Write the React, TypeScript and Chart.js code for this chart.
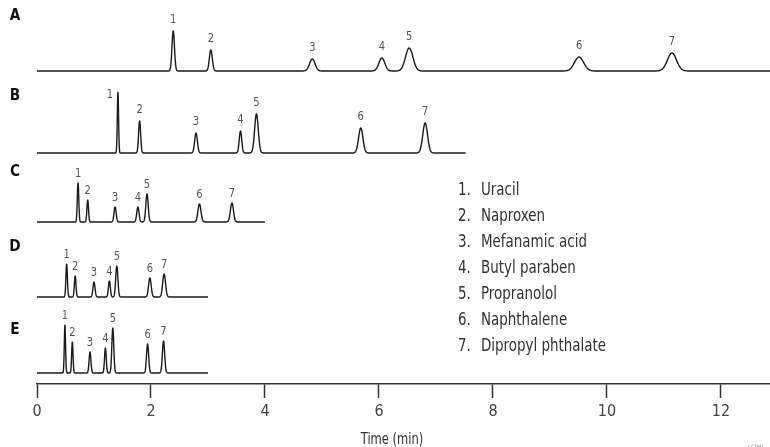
import React, { useEffect, useRef } from 'react';
import { Chart, registerables } from 'chart.js';

Chart.register(...registerables);

// ---------- data ----------
const traceNames = ['A', 'B', 'C', 'D', 'E'];
const traceEnds = [12.86, 7.52, 4.0, 3.0, 3.0]; // run length (min)

const timesA = [2.39, 3.05, 4.83, 6.05, 6.53, 9.51, 11.14];
const heightsA = [40, 21, 12, 13, 23, 14, 18];
const widthsA = [0.022, 0.026, 0.048, 0.052, 0.065, 0.08, 0.08];

const timesB = [1.42, 1.8, 2.79, 3.57, 3.85, 5.68, 6.81];
const heightsB = [61, 32, 20, 22, 39, 25, 30];
const widthsB = [0.011, 0.018, 0.024, 0.022, 0.032, 0.038, 0.042];

const timesC = [0.72, 0.89, 1.37, 1.77, 1.93, 2.85, 3.42];
const heightsC = [39, 22, 15, 15, 28, 18, 19];
const widthsC = [0.013, 0.014, 0.019, 0.02, 0.021, 0.027, 0.027];

const timesD = [0.52, 0.67, 1.0, 1.27, 1.4, 1.98, 2.23];
const heightsD = [33, 21, 15, 16, 31, 19, 23];
const widthsD = [0.013, 0.014, 0.018, 0.017, 0.019, 0.023, 0.025];

const timesE = [0.49, 0.62, 0.93, 1.2, 1.33, 1.94, 2.22];
const heightsE = [48, 31, 21, 25, 45, 29, 32];
const widthsE = [0.011, 0.012, 0.016, 0.015, 0.017, 0.019, 0.02];

const compounds = [
  'Uracil',
  'Naproxen',
  'Mefanamic acid',
  'Butyl paraben',
  'Propranolol',
  'Naphthalene',
  'Dipropyl phthalate',
];

const xTicks = [0, 2, 4, 6, 8, 10, 12];
const xTitle = 'Time (min)';

// ---------- layout / style ----------
const FONT = "'DejaVu Sans Condensed', 'Liberation Sans Narrow', sans-serif";
const X_MAX = 12.86;
const Y_MAX = 384;
const traceOffsets = [313, 231, 162, 87, 11];
const letterY = [16, 96, 172, 247, 330];
const labelGap = [11, 11, 9, 9, 9];

const peakTimes = [timesA, timesB, timesC, timesD, timesE];
const peakHeights = [heightsA, heightsB, heightsC, heightsD, heightsE];
const peakWidths = [widthsA, widthsB, widthsC, widthsD, widthsE];

function buildTrace(k: number) {
  const pts: { x: number; y: number }[] = [];
  const step = 0.003;
  const end = traceEnds[k];
  const ts = peakTimes[k];
  const hs = peakHeights[k];
  const ws = peakWidths[k];
  const n = Math.round(end / step);
  for (let j = 0; j <= n; j++) {
    const t = Math.min(end, j * step);
    let y = traceOffsets[k];
    for (let i = 0; i < ts.length; i++) {
      const d = (t - ts[i]) / ws[i];
      y += hs[i] * Math.exp(-0.5 * d * d);
    }
    pts.push({ x: t, y });
  }
  return pts;
}

function narrowText(ctx: CanvasRenderingContext2D, text: string, x: number, y: number, sx: number) {
  ctx.save();
  ctx.translate(x, y);
  ctx.scale(sx, 1);
  ctx.fillText(text, 0, 0);
  ctx.restore();
}

const annotPlugin = {
  id: 'annot',
  afterDatasetsDraw(chart: any) {
    const { ctx, scales } = chart;
    const xs = scales.x;
    const ys = scales.y;
    ctx.save();
    // peak number labels
    ctx.font = `13px ${FONT}`;
    ctx.fillStyle = '#555';
    ctx.textAlign = 'center';
    ctx.textBaseline = 'middle';
    for (let k = 0; k < traceNames.length; k++) {
      const ts = peakTimes[k];
      const hs = peakHeights[k];
      for (let i = 0; i < ts.length; i++) {
        let px = xs.getPixelForValue(ts[i]);
        let py = ys.getPixelForValue(traceOffsets[k] + hs[i]) - labelGap[k];
        if (k === 1 && i === 0) {
          px -= 8;
          py += labelGap[k] + 3;
        }
        narrowText(ctx, String(i + 1), px, py, 0.85);
      }
    }
    // trace letters
    ctx.font = `bold 16px ${FONT}`;
    ctx.fillStyle = '#111';
    for (let k = 0; k < traceNames.length; k++) {
      narrowText(ctx, traceNames[k], 15, letterY[k], 0.95);
    }
    // compound list
    ctx.font = `18px ${FONT}`;
    ctx.fillStyle = '#333';
    ctx.textAlign = 'left';
    for (let i = 0; i < compounds.length; i++) {
      const y = 190 + 26 * i;
      narrowText(ctx, `${i + 1}.`, 458, y, 0.83);
      narrowText(ctx, compounds[i], 481, y, 0.83);
    }
    // axis title
    ctx.font = `16px ${FONT}`;
    ctx.fillStyle = '#333';
    ctx.textAlign = 'center';
    ctx.textBaseline = 'alphabetic';
    narrowText(ctx, xTitle, 392, 444, 0.8);
    // cut-off figure code
    ctx.font = `6px ${FONT}`;
    ctx.fillStyle = '#888';
    ctx.textAlign = 'left';
    ctx.fillText('LCPBI', 748, 449);
    ctx.restore();
  },
};

export default function App() {
  const ref = useRef<HTMLCanvasElement | null>(null);
  useEffect(() => {
    if (!ref.current) return;
    const chart = new Chart(ref.current, {
      type: 'line',
      data: {
        datasets: traceNames.map((n, k) => ({
          label: n,
          data: buildTrace(k),
          borderColor: '#1a1a1a',
          borderWidth: 1.4,
          pointRadius: 0,
          fill: false,
          tension: 0.01,
        })),
      },
      options: {
        animation: false,
        responsive: true,
        maintainAspectRatio: false,
        parsing: false,
        layout: { padding: { left: 37, right: 0, top: 0, bottom: 0 } },
        plugins: { legend: { display: false }, tooltip: { enabled: false } },
        scales: {
          x: {
            type: 'linear',
            min: 0,
            max: X_MAX,
            afterFit: (s: any) => {
              s.height = 63;
            },
            afterBuildTicks: (s: any) => {
              s.ticks = xTicks.map((v) => ({ value: v }));
            },
            grid: {
              drawOnChartArea: false,
              drawTicks: true,
              tickLength: 14,
              tickWidth: 1.5,
              tickColor: '#333',
            },
            border: { display: true, color: '#333', width: 1.5 },
            ticks: {
              color: '#444',
              font: { family: FONT, size: 16 },
              padding: 4,
              maxRotation: 0,
              autoSkip: false,
            },
            title: { display: false },
          },
          y: {
            type: 'linear',
            display: false,
            min: 0,
            max: Y_MAX,
          },
        },
      },
      plugins: [annotPlugin],
    });
    return () => chart.destroy();
  }, []);
  return (
    <div style={{ position: 'absolute', left: 0, top: 0, width: 770, height: 447, background: '#fff' }}>
      <canvas ref={ref} />
    </div>
  );
}
